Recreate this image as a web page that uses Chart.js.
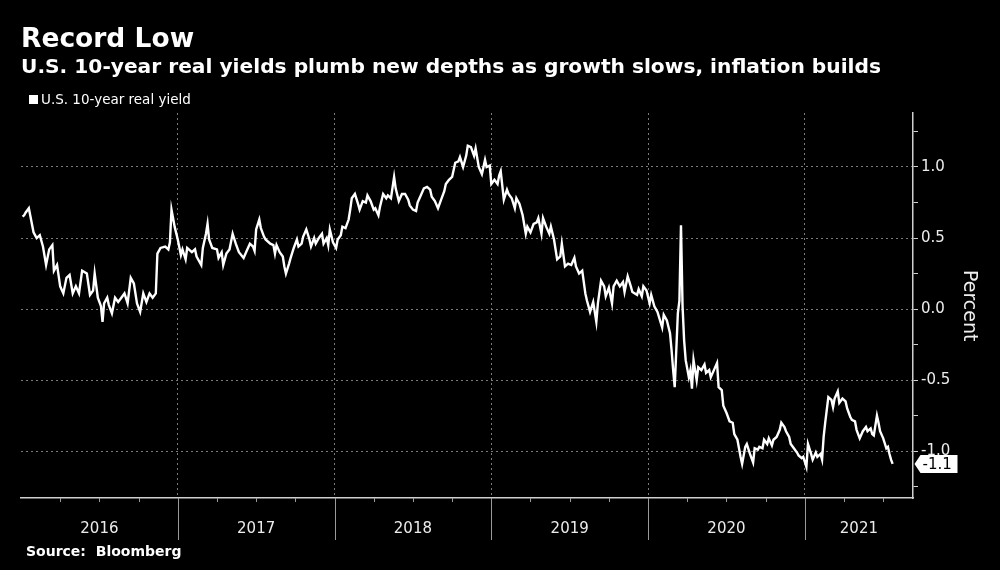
<!DOCTYPE html>
<html>
<head>
<meta charset="utf-8">
<script src="https://cdn.jsdelivr.net/npm/chart.js@4.4.0/dist/chart.umd.min.js"></script>
<style>
  html, body { margin: 0; padding: 0; background: #000; }
  body { width: 1000px; height: 570px; position: relative; overflow: hidden; font-family: "DejaVu Sans", sans-serif; color: #fff; }
  canvas { position: absolute; left: 0; top: 0; }
  .title { position: absolute; left: 21px; top: 25px; font-size: 26.5px; font-weight: bold; line-height: 1; white-space: nowrap; }
  .subtitle { position: absolute; left: 21px; top: 56px; font-size: 20.2px; font-weight: bold; line-height: 1; white-space: nowrap; }
  .legend-box { position: absolute; left: 29px; top: 95px; width: 9px; height: 9px; background: #fff; }
  .legend { position: absolute; left: 41px; top: 93px; font-size: 13.5px; line-height: 1; white-space: nowrap; }
  .unit { position: absolute; left: 961px; top: 270px; font-size: 19px; line-height: 1; writing-mode: vertical-rl; color: #eee; }
  .source { position: absolute; left: 26px; top: 544px; font-size: 14px; font-weight: bold; line-height: 1; white-space: nowrap; }
</style>
</head>
<body>
<canvas id="chart" width="1000" height="570"></canvas>
<div class="title">Record Low</div>
<div class="subtitle">U.S. 10-year real yields plumb new depths as growth slows, inflation builds</div>
<div class="legend-box"></div>
<div class="legend">U.S. 10-year real yield</div>
<div class="unit">Percent</div>
<div class="source">Source:&nbsp; Bloomberg</div>
<script>
// dates as decimal years, values in percent
const dates = [
  2016.01, 2016.02, 2016.03, 2016.05, 2016.08, 2016.10, 2016.12, 2016.14, 2016.16, 2016.18, 2016.20, 2016.21, 2016.23, 2016.25, 2016.27, 2016.29, 2016.31, 2016.33, 2016.35, 2016.37,
  2016.39, 2016.42, 2016.44, 2016.46, 2016.47, 2016.49, 2016.51, 2016.52, 2016.53, 2016.55, 2016.56, 2016.58, 2016.60, 2016.62, 2016.64, 2016.66, 2016.68, 2016.70, 2016.72, 2016.74,
  2016.76, 2016.78, 2016.80, 2016.82, 2016.84, 2016.86, 2016.87, 2016.89, 2016.92, 2016.94, 2016.95, 2016.96, 2016.98,
  2017.00, 2017.02, 2017.03, 2017.05, 2017.06, 2017.09, 2017.11, 2017.12, 2017.15, 2017.16, 2017.18, 2017.19, 2017.20, 2017.22, 2017.25, 2017.26, 2017.28, 2017.29, 2017.31, 2017.33,
  2017.35, 2017.37, 2017.39, 2017.42, 2017.44, 2017.46, 2017.48, 2017.49, 2017.50, 2017.52, 2017.53, 2017.55, 2017.56, 2017.59, 2017.61, 2017.62, 2017.63, 2017.65, 2017.67, 2017.68,
  2017.69, 2017.71, 2017.72, 2017.74, 2017.76, 2017.77, 2017.79, 2017.80, 2017.82, 2017.84, 2017.85, 2017.87, 2017.88, 2017.90, 2017.92, 2017.93, 2017.95, 2017.96, 2017.97, 2017.99,
  2018.01, 2018.02, 2018.04, 2018.05, 2018.07, 2018.09, 2018.10, 2018.11, 2018.13, 2018.15, 2018.16, 2018.18, 2018.20, 2018.21, 2018.23, 2018.25, 2018.26, 2018.28, 2018.29, 2018.31,
  2018.33, 2018.34, 2018.36, 2018.38, 2018.39, 2018.41, 2018.43, 2018.45, 2018.47, 2018.48, 2018.50, 2018.52, 2018.53, 2018.55, 2018.57, 2018.59, 2018.61, 2018.62, 2018.64, 2018.66,
  2018.68, 2018.70, 2018.71, 2018.73, 2018.75, 2018.77, 2018.79, 2018.80, 2018.82, 2018.84, 2018.85, 2018.87, 2018.89, 2018.90, 2018.92, 2018.94, 2018.96, 2018.97, 2018.99,
  2019.00, 2019.02, 2019.04, 2019.05, 2019.06, 2019.08, 2019.10, 2019.11, 2019.13, 2019.15, 2019.16, 2019.18, 2019.20, 2019.22, 2019.23, 2019.25, 2019.27, 2019.29, 2019.30, 2019.32,
  2019.33, 2019.35, 2019.37, 2019.38, 2019.40, 2019.42, 2019.44, 2019.45, 2019.47, 2019.49, 2019.51, 2019.53, 2019.54, 2019.56, 2019.58, 2019.60, 2019.61, 2019.63, 2019.65, 2019.67,
  2019.68, 2019.70, 2019.72, 2019.73, 2019.75, 2019.77, 2019.78, 2019.80, 2019.82, 2019.84, 2019.85, 2019.87, 2019.89, 2019.90, 2019.93, 2019.94, 2019.96, 2019.97, 2019.99,
  2020.01, 2020.02, 2020.04, 2020.06, 2020.09, 2020.10, 2020.12, 2020.14, 2020.15, 2020.16, 2020.17, 2020.19, 2020.20, 2020.21, 2020.22, 2020.23, 2020.24, 2020.26, 2020.27, 2020.28,
  2020.29, 2020.31, 2020.32, 2020.34, 2020.36, 2020.37, 2020.39, 2020.40, 2020.42, 2020.44, 2020.45, 2020.47, 2020.48, 2020.50, 2020.52, 2020.54, 2020.55, 2020.57, 2020.59, 2020.60,
  2020.62, 2020.63, 2020.65, 2020.67, 2020.68, 2020.70, 2020.71, 2020.73, 2020.74, 2020.76, 2020.77, 2020.79, 2020.80, 2020.82, 2020.84, 2020.85, 2020.87, 2020.88, 2020.90, 2020.91,
  2020.93, 2020.95, 2020.96, 2020.98, 2020.99,
  2021.01, 2021.02, 2021.04, 2021.05, 2021.07, 2021.08, 2021.10, 2021.11, 2021.12, 2021.13, 2021.14, 2021.15, 2021.17, 2021.18, 2021.19, 2021.21, 2021.22, 2021.24, 2021.26, 2021.27,
  2021.29, 2021.30, 2021.32, 2021.33, 2021.35, 2021.37, 2021.39, 2021.40, 2021.42, 2021.43, 2021.44, 2021.46, 2021.47, 2021.48, 2021.50, 2021.52, 2021.53, 2021.54, 2021.55, 2021.56
];

const yields = [
  0.65, 0.66, 0.68, 0.71, 0.54, 0.50, 0.52, 0.44, 0.31, 0.42, 0.45, 0.27, 0.31, 0.16, 0.11, 0.22, 0.24, 0.11, 0.16, 0.11,
  0.27, 0.25, 0.10, 0.13, 0.25, 0.08, 0.02, -0.09, 0.04, 0.08, 0.03, -0.03, 0.08, 0.05, 0.08, 0.11, 0.04, 0.22, 0.18, 0.04,
  -0.02, 0.11, 0.05, 0.11, 0.08, 0.11, 0.39, 0.43, 0.44, 0.42, 0.47, 0.70, 0.58,
  0.49, 0.38, 0.42, 0.35, 0.43, 0.40, 0.42, 0.37, 0.31, 0.43, 0.53, 0.60, 0.49, 0.43, 0.42, 0.36, 0.40, 0.31, 0.39, 0.42,
  0.53, 0.46, 0.40, 0.36, 0.41, 0.46, 0.44, 0.41, 0.56, 0.63, 0.57, 0.51, 0.49, 0.46, 0.45, 0.39, 0.45, 0.40, 0.37, 0.30,
  0.25, 0.32, 0.36, 0.43, 0.49, 0.44, 0.46, 0.51, 0.56, 0.49, 0.44, 0.50, 0.46, 0.50, 0.53, 0.46, 0.50, 0.45, 0.56, 0.47,
  0.43, 0.49, 0.52, 0.58, 0.57, 0.63, 0.70, 0.78, 0.81, 0.74, 0.70, 0.76, 0.75, 0.80, 0.76, 0.70, 0.71, 0.66, 0.72, 0.81,
  0.78, 0.80, 0.78, 0.93, 0.85, 0.76, 0.81, 0.81, 0.77, 0.73, 0.70, 0.69, 0.75, 0.80, 0.85, 0.86, 0.84, 0.79, 0.76, 0.71,
  0.77, 0.83, 0.88, 0.91, 0.93, 1.03, 1.04, 1.07, 1.00, 1.08, 1.15, 1.14, 1.08, 1.13, 1.00, 0.95, 1.05, 1.00, 1.01,
  0.88, 0.91, 0.88, 0.94, 0.97, 0.77, 0.84, 0.81, 0.78, 0.71, 0.78, 0.74, 0.66, 0.53, 0.58, 0.54, 0.60, 0.61, 0.64, 0.53,
  0.64, 0.58, 0.53, 0.58, 0.49, 0.35, 0.37, 0.46, 0.30, 0.32, 0.31, 0.36, 0.30, 0.25, 0.27, 0.11, 0.06, -0.02, 0.05, -0.09,
  0.04, 0.20, 0.16, 0.09, 0.15, 0.04, 0.16, 0.20, 0.16, 0.19, 0.12, 0.23, 0.16, 0.12, 0.10, 0.14, 0.09, 0.16, 0.13,
  0.04, 0.10, 0.02, -0.02, -0.13, -0.04, -0.08, -0.17, -0.29, -0.43, -0.55, -0.03, 0.06, 0.59, 0.02, -0.22, -0.36, -0.48, -0.43, -0.56,
  -0.36, -0.50, -0.41, -0.43, -0.39, -0.45, -0.43, -0.48, -0.43, -0.38, -0.55, -0.57, -0.68, -0.73, -0.79, -0.80, -0.88, -0.92, -1.04, -1.09,
  -0.97, -0.95, -1.02, -1.08, -0.98, -0.99, -0.97, -0.98, -0.92, -0.95, -0.91, -0.96, -0.92, -0.90, -0.85, -0.80, -0.83, -0.86, -0.90, -0.95,
  -0.98, -1.01, -1.03, -1.05, -1.04,
  -1.11, -0.95, -1.02, -1.06, -1.01, -1.04, -1.02, -1.06, -0.90, -0.80, -0.71, -0.62, -0.64, -0.69, -0.63, -0.58, -0.66, -0.63, -0.65, -0.70,
  -0.76, -0.78, -0.79, -0.85, -0.91, -0.86, -0.83, -0.86, -0.84, -0.88, -0.89, -0.75, -0.80, -0.86, -0.91, -0.98, -0.97, -1.02, -1.06, -1.09
];

const yearLabels = ['2016', '2017', '2018', '2019', '2020', '2021'];
const quarterTicks = [
  2016, 2016.25, 2016.5, 2016.75, 2017, 2017.25, 2017.5, 2017.75, 2018, 2018.25, 2018.5, 2018.75,
  2019, 2019.25, 2019.5, 2019.75, 2020, 2020.25, 2020.5, 2020.75, 2021, 2021.25, 2021.5
];
const yTicks = [-1.25, -1, -0.75, -0.5, -0.25, 0, 0.25, 0.5, 0.75, 1, 1.25];

const fontFamily = '"DejaVu Sans", sans-serif';
const axisColor = '#cfcfcf';
const gridColor = '#7a7a7a';
const labelColor = '#ececec';

const isHalf = (v) => Math.abs(v * 2 - Math.round(v * 2)) < 1e-6;

const xDecor = {
  id: 'xDecor',
  afterDraw(chart) {
    const { ctx, chartArea, scales: { x, y } } = chart;
    ctx.save();

    // quarter ticks and year separators under the axis
    ctx.strokeStyle = '#9a9a9a';
    ctx.lineWidth = 1;
    quarterTicks.forEach((v) => {
      if (v === x.min) return;
      const px = Math.round(x.getPixelForValue(v)) + 0.5;
      const len = Number.isInteger(v) ? 42 : 4;
      ctx.beginPath();
      ctx.moveTo(px, chartArea.bottom);
      ctx.lineTo(px, chartArea.bottom + len);
      ctx.stroke();
    });

    // year labels, centred in each year span
    ctx.fillStyle = labelColor;
    ctx.font = `15px ${fontFamily}`;
    ctx.textAlign = 'center';
    ctx.textBaseline = 'middle';
    yearLabels.forEach((label) => {
      const yr = Number(label);
      const a = x.getPixelForValue(yr);
      const b = x.getPixelForValue(Math.min(yr + 1, x.max));
      ctx.fillText(label, (a + b) / 2, chartArea.bottom + 31);
    });

    // last value tag
    const last = yields[yields.length - 1];
    const py = y.getPixelForValue(last);
    const left = chartArea.right + 1.5;
    ctx.fillStyle = '#fff';
    ctx.beginPath();
    ctx.moveTo(left, py);
    ctx.lineTo(left + 6, py - 9);
    ctx.lineTo(left + 43, py - 9);
    ctx.lineTo(left + 43, py + 9);
    ctx.lineTo(left + 6, py + 9);
    ctx.closePath();
    ctx.fill();
    ctx.fillStyle = '#000';
    ctx.font = `15px ${fontFamily}`;
    ctx.textAlign = 'left';
    ctx.fillText(last.toFixed(1), left + 8, py + 1);

    ctx.restore();
  }
};

new Chart(document.getElementById('chart'), {
  type: 'line',
  data: {
    datasets: [{
      label: 'U.S. 10-year real yield',
      data: dates.map((d, i) => ({ x: d, y: yields[i] })),
      borderColor: '#ffffff',
      borderWidth: 2.4,
      pointRadius: 0,
      tension: 0
    }]
  },
  options: {
    responsive: false,
    animation: false,
    devicePixelRatio: 1,
    layout: { padding: { left: 21, top: 113, right: 0, bottom: 0 } },
    plugins: {
      legend: { display: false },
      tooltip: { enabled: false }
    },
    scales: {
      x: {
        type: 'linear',
        min: 2016,
        max: 2021.69,
        afterBuildTicks: (scale) => { scale.ticks = quarterTicks.map((v) => ({ value: v })); },
        afterFit: (scale) => { scale.height = 72; },
        ticks: { display: false },
        grid: {
          drawTicks: false,
          color: (ctx) => (ctx.tick && Number.isInteger(ctx.tick.value) && ctx.tick.value > 2016 ? gridColor : 'transparent')
        },
        border: { display: true, color: axisColor, width: 1.5, dash: [2, 3] }
      },
      y: {
        position: 'right',
        min: -1.33,
        max: 1.38,
        afterBuildTicks: (scale) => { scale.ticks = yTicks.map((v) => ({ value: v })); },
        afterFit: (scale) => { scale.width = 87; },
        ticks: {
          color: labelColor,
          padding: 3,
          font: { family: fontFamily, size: 15 },
          callback: (v) => (isHalf(v) ? v.toFixed(1) : '')
        },
        grid: {
          color: (ctx) => (ctx.tick && isHalf(ctx.tick.value) ? gridColor : 'transparent'),
          tickColor: axisColor,
          tickLength: 5
        },
        border: { display: true, color: axisColor, width: 1.5, dash: [2, 3] }
      }
    }
  },
  plugins: [xDecor]
});
</script>
</body>
</html>
